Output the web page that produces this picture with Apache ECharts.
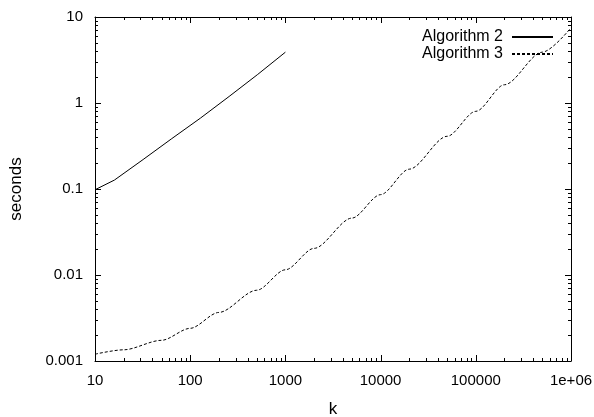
<!DOCTYPE html>
<html>
<head>
<meta charset="utf-8">
<script src="https://cdn.jsdelivr.net/npm/echarts@6/dist/echarts.min.js"></script>
<style>
html,body{margin:0;padding:0;background:#fff;}
#chart{width:594px;height:417px;}
</style>
</head>
<body>
<div id="chart"></div>
<script>
// ---- data ----
var alg2K   = [10, 16, 32, 64, 128, 256, 512, 1000];
var alg2Sec = [0.098, 0.127, 0.220, 0.385, 0.667, 1.19, 2.15, 3.9];

var alg3K   = [10, 20, 50, 100, 200, 500, 1000, 2000, 5000, 10000, 20000, 50000, 100000, 200000, 500000, 1000000];
var alg3Sec = [0.0012, 0.00135, 0.00174, 0.0024, 0.00367, 0.00665, 0.0115, 0.0204, 0.0459, 0.086, 0.17, 0.41, 0.80, 1.63, 3.9, 7.5];

var xTickValues = [10, 100, 1000, 10000, 100000, 1000000];
var xTickLabels = ['10', '100', '1000', '10000', '100000', '1e+06'];
var yTickValues = [0.001, 0.01, 0.1, 1, 10];
var yTickLabels = ['0.001', '0.01', '0.1', '1', '10'];
var seriesNames = ['Algorithm 2', 'Algorithm 3'];

var X_MIN = 10, X_MAX = 1000000, Y_MIN = 0.001, Y_MAX = 10;
var MAJOR_LEN = 6, MINOR_LEN = 3;

function zip(a, b) { return a.map(function (v, i) { return [v, b[i]]; }); }

var FONT = 'Liberation Sans';

function lbl(values, labels) {
  return function (v) {
    var lv = Math.log(v) / Math.LN10;
    for (var i = 0; i < values.length; i++) {
      if (Math.abs(lv - Math.log(values[i]) / Math.LN10) < 1e-6) return labels[i];
    }
    return String(v);
  };
}

// decade (major) + 2..9 (minor) tick values, gnuplot style
function decadeTicks(lo, hi) {
  var out = [];
  for (var d = lo; d < hi * 1.0001; d *= 10) {
    out.push({v: d, major: true});
    if (d * 1.5 < hi) {
      for (var m = 2; m <= 9; m++) out.push({v: d * m, major: false});
    }
  }
  return out;
}
var xTicks = decadeTicks(X_MIN, X_MAX);
var yTicks = decadeTicks(Y_MIN, Y_MAX);

function blackLine() { return {show: true, lineStyle: {color: '#000', width: 1}}; }

var chart = echarts.init(document.getElementById('chart'), null, {renderer: 'canvas'});
chart.setOption({
  animation: false,
  grid: {left: 95, right: 23, top: 17, bottom: 56, containLabel: false, outerBoundsMode: 'none'},
  legend: {
    orient: 'vertical', right: 35, top: 24, align: 'right',
    itemWidth: 41, itemHeight: 12, itemGap: 1,
    itemStyle: {opacity: 0},
    textStyle: {fontFamily: FONT, fontSize: 16, color: '#000', padding: [0, 4, 0, 0]},
    data: seriesNames
  },
  xAxis: [
    {
      type: 'log', min: X_MIN, max: X_MAX,
      axisLine: blackLine(), axisTick: {show: false}, minorTick: {show: false},
      splitLine: {show: false},
      name: 'k', nameLocation: 'middle', nameGap: 40,
      nameTextStyle: {fontFamily: FONT, fontSize: 17, color: '#000'},
      axisLabel: {fontFamily: FONT, fontSize: 15, color: '#000', margin: 12, formatter: lbl(xTickValues, xTickLabels)}
    },
    {
      type: 'log', min: X_MIN, max: X_MAX,
      axisLine: blackLine(), axisTick: {show: false}, minorTick: {show: false},
      splitLine: {show: false}, axisLabel: {show: false}
    }
  ],
  yAxis: [
    {
      type: 'log', min: Y_MIN, max: Y_MAX,
      axisLine: blackLine(), axisTick: {show: false}, minorTick: {show: false},
      splitLine: {show: false},
      name: 'seconds', nameLocation: 'middle', nameGap: 70,
      nameTextStyle: {fontFamily: FONT, fontSize: 17, color: '#000'},
      axisLabel: {fontFamily: FONT, fontSize: 15, color: '#000', margin: 12, formatter: lbl(yTickValues, yTickLabels)}
    },
    {
      type: 'log', min: Y_MIN, max: Y_MAX,
      axisLine: blackLine(), axisTick: {show: false}, minorTick: {show: false},
      splitLine: {show: false}, axisLabel: {show: false}
    }
  ],
  series: [
    {
      name: seriesNames[0], type: 'line', data: zip(alg2K, alg2Sec), xAxisIndex: 0, yAxisIndex: 0,
      symbol: 'none', lineStyle: {color: '#000', width: 1}, itemStyle: {color: '#000'}
    },
    {
      name: seriesNames[1], type: 'line', data: zip(alg3K, alg3Sec), xAxisIndex: 0, yAxisIndex: 0,
      symbol: 'none', smooth: 0.3, smoothMonotone: 'x',
      lineStyle: {color: '#000', width: 1, type: [3, 2]}, itemStyle: {color: '#000'}
    }
  ]
});

// inward tick marks on all four sides, positioned through the chart's own log scales
(function drawTicks() {
  var zr = chart.getZr();
  var finder = {xAxisIndex: 0, yAxisIndex: 0};
  function seg(x1, y1, x2, y2) {
    zr.add(new echarts.graphic.Line({
      shape: {x1: x1, y1: y1, x2: x2, y2: y2},
      style: {stroke: '#000', lineWidth: 1},
      z: 100, silent: true
    }));
  }
  xTicks.forEach(function (t) {
    var len = t.major ? MAJOR_LEN : MINOR_LEN;
    var b = chart.convertToPixel(finder, [t.v, Y_MIN]);
    var tp = chart.convertToPixel(finder, [t.v, Y_MAX]);
    var x = Math.round(b[0]) + 0.5;
    var yb = Math.round(b[1]), yt = Math.round(tp[1]);
    seg(x, yb, x, yb - len);
    seg(x, yt, x, yt + len);
  });
  yTicks.forEach(function (t) {
    var len = t.major ? MAJOR_LEN : MINOR_LEN;
    var l = chart.convertToPixel(finder, [X_MIN, t.v]);
    var r = chart.convertToPixel(finder, [X_MAX, t.v]);
    var y = Math.round(l[1]) + 0.5;
    var xl = Math.round(l[0]), xr = Math.round(r[0]);
    seg(xl, y, xl + len, y);
    seg(xr, y, xr - len, y);
  });
  if (zr.refreshImmediately) zr.refreshImmediately();
})();
</script>
</body>
</html>
